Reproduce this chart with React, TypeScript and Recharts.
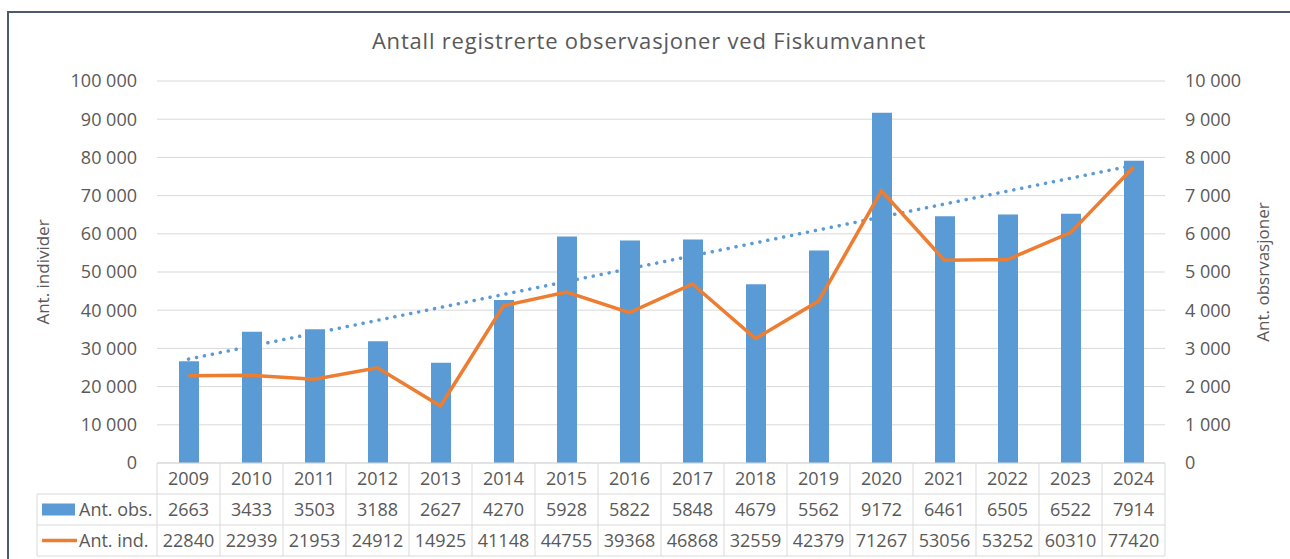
import { ComposedChart, Bar, Line, XAxis, YAxis, CartesianGrid } from "recharts";

const YEARS = ["2009", "2010", "2011", "2012", "2013", "2014", "2015", "2016", "2017", "2018", "2019", "2020", "2021", "2022", "2023", "2024"];
const OBS = [2663, 3433, 3503, 3188, 2627, 4270, 5928, 5822, 5848, 4679, 5562, 9172, 6461, 6505, 6522, 7914];
const IND = [22840, 22939, 21953, 24912, 14925, 41148, 44755, 39368, 46868, 32559, 42379, 71267, 53056, 53252, 60310, 77420];
const LEFT_TICKS = [0, 10000, 20000, 30000, 40000, 50000, 60000, 70000, 80000, 90000, 100000];
const RIGHT_TICKS = [0, 1000, 2000, 3000, 4000, 5000, 6000, 7000, 8000, 9000, 10000];

const BLUE = "#5B9BD5";
const ORANGE = "#ED7D31";
const TEXT = "#595959";
const GRID = "#D9D9D9";

const BAND = 63; // width of one year column in the plot
const ROW = 31;
const HEAD_W = 120;

// linear trendline (least squares) for Ant. obs., like Excel's
function trendEnds(values: number[]) {
  const n = values.length;
  const mx = (n - 1) / 2;
  const my = values.reduce((s, v) => s + v, 0) / n;
  let sxy = 0;
  let sxx = 0;
  values.forEach((v, i) => {
    sxy += (i - mx) * (v - my);
    sxx += (i - mx) * (i - mx);
  });
  const b = sxy / sxx;
  return [my - b * mx, my + b * (n - 1 - mx)];
}

const [t0, t1] = trendEnds(OBS);

const data = YEARS.map((year, i) => ({
  year,
  obs: OBS[i],
  ind: IND[i],
  trend: i === 0 ? t0 : i === YEARS.length - 1 ? t1 : null,
}));

const fmt = (v: number) => String(v).replace(/\B(?=(\d{3})+(?!\d))/g, " ");

function TableTick(props: any) {
  const { x, y, payload } = props;
  const i = YEARS.indexOf(payload.value);
  const l = x - BAND / 2;
  const r = x + BAND / 2;
  const line = { stroke: GRID, strokeWidth: 1 };
  const txt = { fill: TEXT, fontSize: 18, textAnchor: "middle" as const };
  return (
    <g>
      <line x1={l} x2={r} y1={y} y2={y} {...line} />
      <line x1={l} x2={r} y1={y + ROW} y2={y + ROW} {...line} />
      <line x1={l} x2={r} y1={y + ROW * 2} y2={y + ROW * 2} {...line} />
      <line x1={l} x2={r} y1={y + ROW * 3} y2={y + ROW * 3} {...line} />
      <line x1={r} x2={r} y1={y} y2={y + ROW * 3} {...line} />
      {i === 0 && (
        <g>
          <line x1={l} x2={l} y1={y} y2={y + ROW * 3} {...line} />
          <line x1={l - HEAD_W} x2={l} y1={y + ROW} y2={y + ROW} {...line} />
          <line x1={l - HEAD_W} x2={l} y1={y + ROW * 2} y2={y + ROW * 2} {...line} />
          <line x1={l - HEAD_W} x2={l} y1={y + ROW * 3} y2={y + ROW * 3} {...line} />
          <line x1={l - HEAD_W} x2={l - HEAD_W} y1={y + ROW} y2={y + ROW * 3} {...line} />
          <rect x={l - HEAD_W + 5} y={y + ROW * 1.5 - 6} width={33} height={12} fill={BLUE} />
          <line x1={l - HEAD_W + 5} x2={l - HEAD_W + 40} y1={y + ROW * 2.5} y2={y + ROW * 2.5} stroke={ORANGE} strokeWidth={3.5} />
          <text x={l - HEAD_W + 42} y={y + ROW * 1.5} dy="0.35em" fill={TEXT} fontSize={18}>Ant. obs.</text>
          <text x={l - HEAD_W + 42} y={y + ROW * 2.5} dy="0.35em" fill={TEXT} fontSize={18}>Ant. ind.</text>
        </g>
      )}
      <text x={x} y={y + ROW * 0.5} dy="0.35em" {...txt}>{payload.value}</text>
      <text x={x} y={y + ROW * 1.5} dy="0.35em" {...txt}>{OBS[i]}</text>
      <text x={x} y={y + ROW * 2.5} dy="0.35em" {...txt}>{IND[i]}</text>
    </g>
  );
}

function AxisTitle({ viewBox, value, cx }: any) {
  const cy = viewBox.y + viewBox.height / 2;
  return (
    <text x={cx} y={cy} transform={`rotate(-90, ${cx}, ${cy})`} textAnchor="middle" dy="0.35em" fill={TEXT} fontSize={17}>
      {value}
    </text>
  );
}

export default function App() {
  return (
    <div style={{ position: "relative", width: 1290, height: 559, overflow: "hidden", background: "#fff", fontFamily: "'Open Sans', sans-serif" }}>
      <style>{"body{margin:0}"}</style>
      <div style={{ position: "absolute", left: 7, top: 11, width: 1400, height: 700, border: "2px solid #4B5A6E", boxSizing: "border-box" }} />
      <svg width={1290} height={70} style={{ position: "absolute", left: 0, top: 0 }}>
        <text x={649} y={49} textAnchor="middle" fill={TEXT} fontSize={22} letterSpacing={0.8}>
          Antall registrerte observasjoner ved Fiskumvannet
        </text>
      </svg>
      <div style={{ position: "absolute", left: 0, top: 0 }}>
        <ComposedChart width={1290} height={559} data={data} margin={{ top: 81, right: 0, bottom: 3, left: 0 }}>
          <CartesianGrid yAxisId="left" vertical={false} stroke={GRID} />
          <XAxis dataKey="year" height={93} interval={0} tickSize={0} tickMargin={0} axisLine={false} tickLine={false} tick={<TableTick />} />
          <YAxis
            yAxisId="left"
            width={157}
            domain={[0, 100000]}
            ticks={LEFT_TICKS}
            tickFormatter={fmt}
            axisLine={false}
            tickLine={false}
            tickSize={0}
            tickMargin={20}
            tick={{ fill: TEXT, fontSize: 18 }}
            label={{ content: (p: any) => <AxisTitle {...p} value="Ant. individer" cx={43} /> }}
          />
          <YAxis
            yAxisId="right"
            orientation="right"
            width={125}
            domain={[0, 10000]}
            ticks={RIGHT_TICKS}
            tickFormatter={fmt}
            axisLine={false}
            tickLine={false}
            tickSize={0}
            tickMargin={20}
            tick={{ fill: TEXT, fontSize: 18, textAnchor: "start" }}
            label={{ content: (p: any) => <AxisTitle {...p} value="Ant. obsrvasjoner" cx={1263} /> }}
          />
          <Line yAxisId="right" dataKey="trend" connectNulls stroke={BLUE} strokeWidth={3.5} strokeDasharray="0.1 8" strokeLinecap="round" dot={false} isAnimationActive={false} />
          <Bar yAxisId="right" dataKey="obs" fill={BLUE} barSize={20} isAnimationActive={false} />
          <Line yAxisId="left" dataKey="ind" type="linear" stroke={ORANGE} strokeWidth={3.5} dot={false} isAnimationActive={false} />
        </ComposedChart>
      </div>
    </div>
  );
}
